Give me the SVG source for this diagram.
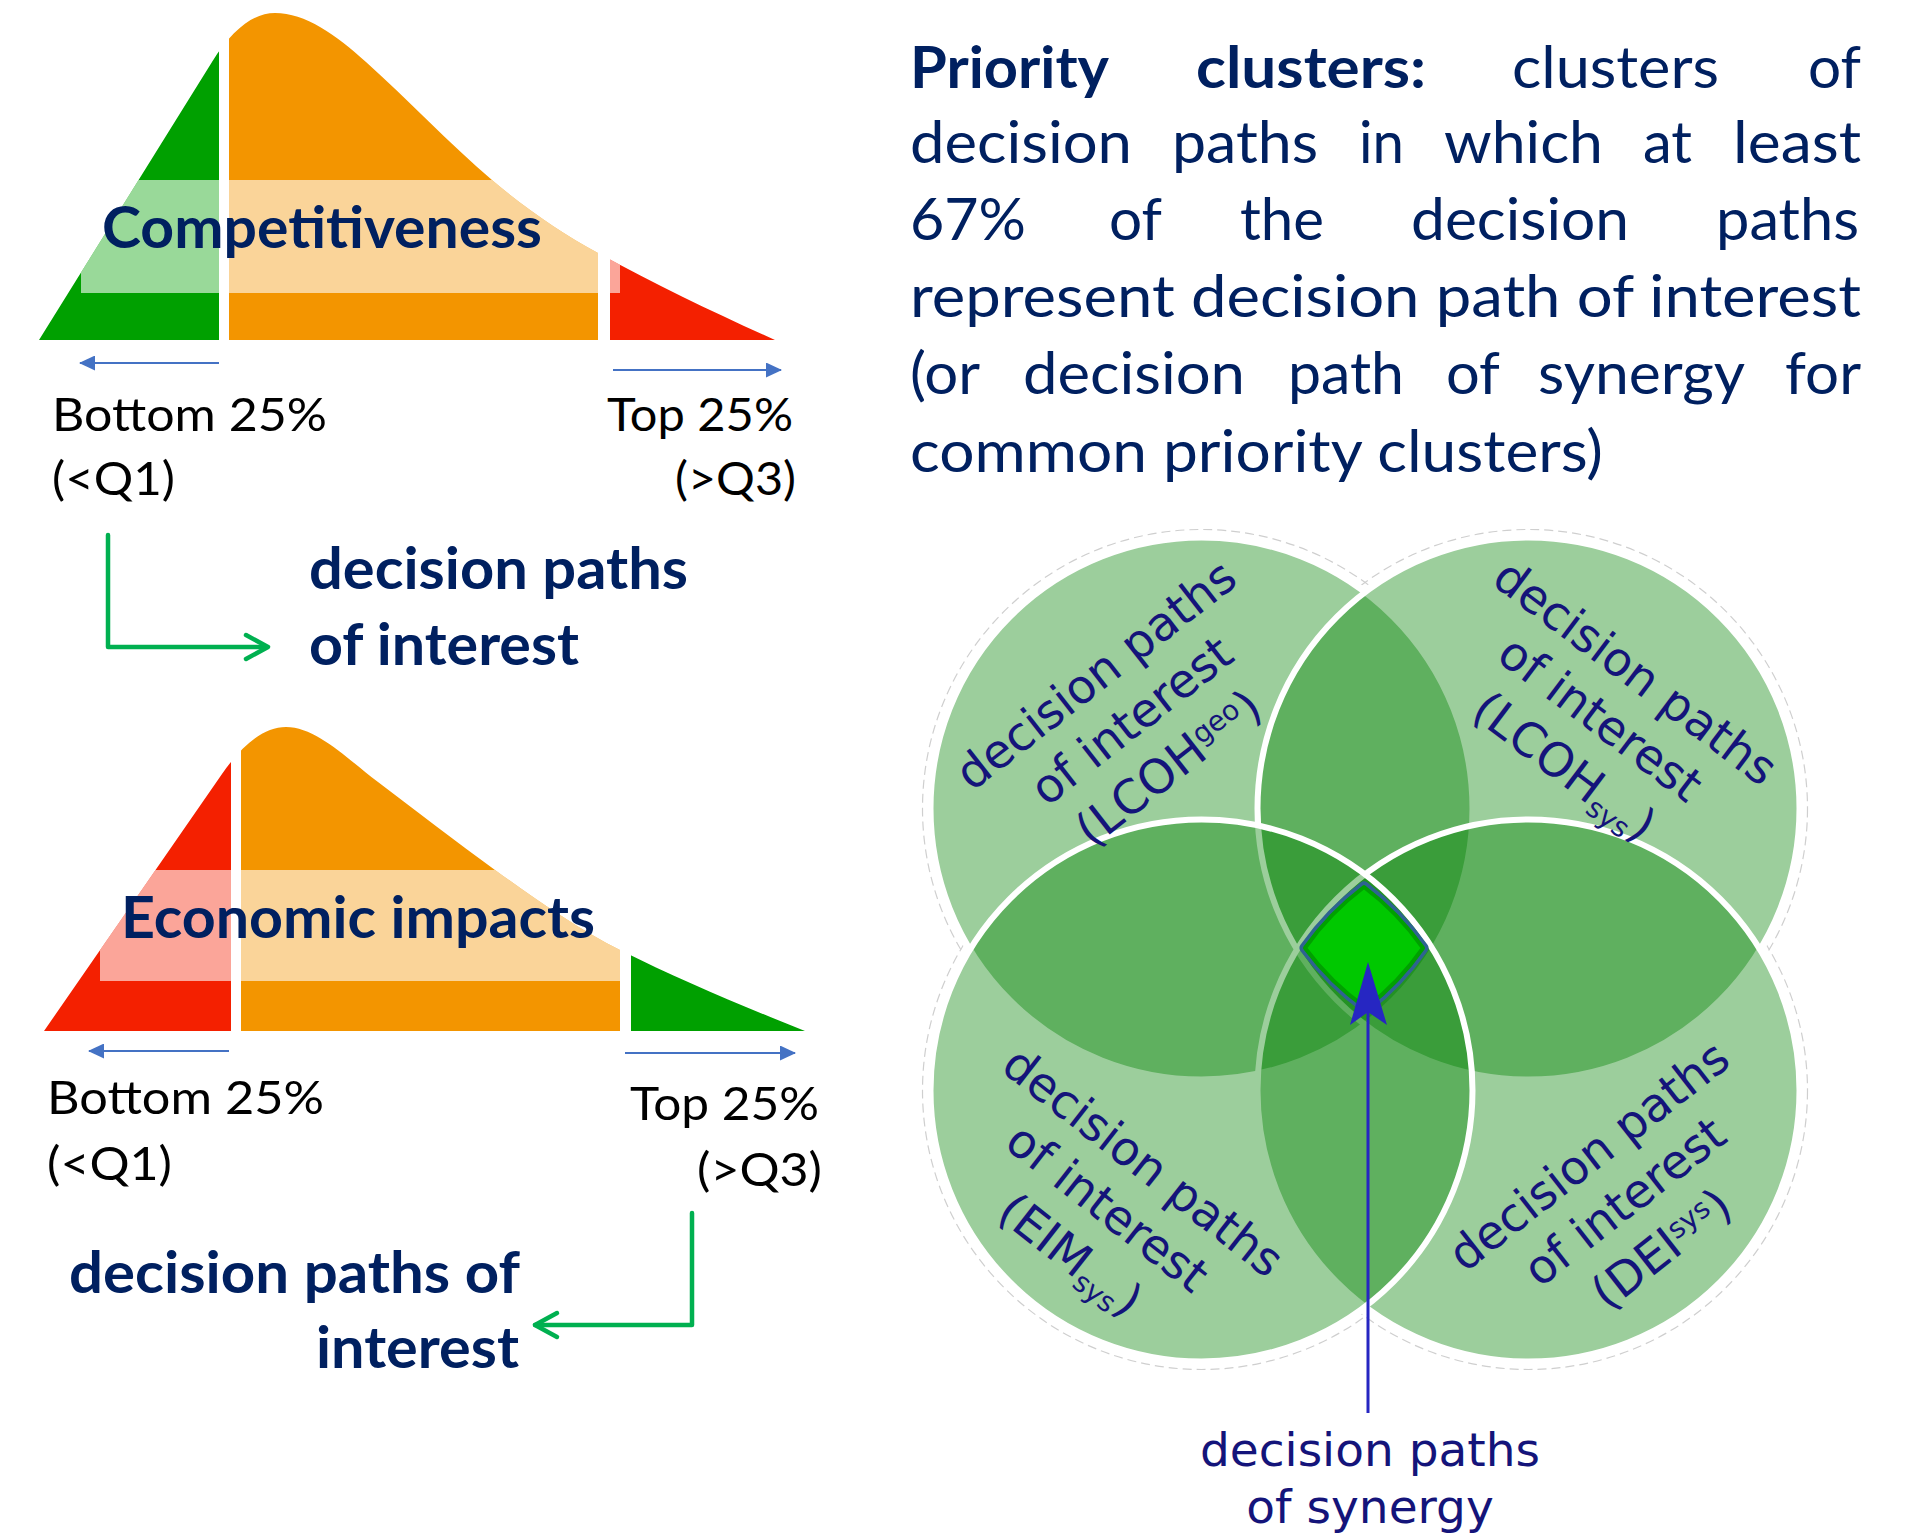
<svg xmlns="http://www.w3.org/2000/svg" width="1930" height="1539" viewBox="0 0 1930 1539">
<defs>
<style>
.nav{fill:#002060;font-family:Lato,"Open Sans",sans-serif}
.b{font-weight:700}
.lbl{fill:#000;font-family:Lato,"Open Sans",sans-serif;font-size:47px}
.par{font-size:58px}
.big{font-size:57px;font-weight:700}
.vt{fill:#14147A;font-family:"DejaVu Sans",Verdana,sans-serif;font-size:47px;text-anchor:middle}
.sub{font-size:28px}
.band{fill:#fff;fill-opacity:0.6}
.circ{fill:#008000;fill-opacity:0.39;stroke:#fff;stroke-width:6}
.ring{fill:none;stroke:#cfcfcf;stroke-width:1.2;stroke-dasharray:9 5}
.blue{stroke:#4472C4;stroke-width:2;fill:none}
.grn{stroke:#00B050;stroke-width:4.5;fill:none;stroke-linecap:round;stroke-linejoin:round}
</style>
<marker id="bh" viewBox="0 0 16 15" refX="15" refY="7.5" markerWidth="16" markerHeight="15" markerUnits="userSpaceOnUse" orient="auto"><path d="M0,0 L16,7.5 L0,15 Z" fill="#4472C4"/></marker>
<clipPath id="c1"><path d="M39,340 L212,62 C233,28.4 254,13 275,13 C305.3,13 335.7,34.7 366,62 C408,99.8 450,144.3 492,180 C527.3,210 562.7,233.6 598,253 C657,285.5 716,313.4 775,340 Z"/></clipPath>
<clipPath id="c2"><path d="M44,1031 L222,774 C243.3,743.3 264.7,727 286,727 C316.7,727 347.3,759 378,782 C417,811.3 456,842 495,870 C536.7,900 578.3,929.2 620,950 C681.7,980.8 743.3,1006.3 805,1031 Z"/></clipPath>
<mask id="outside" maskUnits="userSpaceOnUse" x="0" y="0" width="1930" height="1539">
<rect x="0" y="0" width="1930" height="1539" fill="#fff"/>
<circle cx="1201.5" cy="808.5" r="275" fill="#000"/>
<circle cx="1528.5" cy="808.5" r="275" fill="#000"/>
<circle cx="1201.5" cy="1090.5" r="275" fill="#000"/>
<circle cx="1528.5" cy="1090.5" r="275" fill="#000"/>
</mask>
</defs>

<g id="chart-competitiveness">
<g clip-path="url(#c1)">
<rect x="30" y="0" width="189" height="341" fill="#00A000"/>
<rect x="229" y="0" width="369" height="341" fill="#F39500"/>
<rect x="610" y="0" width="170" height="341" fill="#F42000"/>
</g>
<rect class="band" x="81" y="180" width="539" height="113" clip-path="url(#c1)"/>
<text class="nav big" x="102" y="248" textLength="440" lengthAdjust="spacingAndGlyphs">Competitiveness</text>
<line class="blue" x1="219" y1="363" x2="80" y2="363" marker-end="url(#bh)"/>
<line class="blue" x1="613" y1="370" x2="781" y2="370" marker-end="url(#bh)"/>
<text class="lbl" x="52" y="431" textLength="275" lengthAdjust="spacingAndGlyphs">Bottom 25%</text>
<text class="lbl" x="52" y="495" textLength="123" lengthAdjust="spacingAndGlyphs">(&lt;Q1)</text>
<text class="lbl" x="607" y="431" textLength="186" lengthAdjust="spacingAndGlyphs">Top 25%</text>
<text class="lbl" x="675" y="495" textLength="121" lengthAdjust="spacingAndGlyphs">(&gt;Q3)</text>
</g>

<g id="label-interest-1">
<text class="nav big" x="309" y="589" textLength="379" lengthAdjust="spacingAndGlyphs">decision paths</text>
<text class="nav big" x="309" y="665" textLength="270" lengthAdjust="spacingAndGlyphs">of interest</text>
</g>

<g id="chart-economic">
<g clip-path="url(#c2)">
<rect x="30" y="700" width="201" height="332" fill="#F42000"/>
<rect x="241" y="700" width="379" height="332" fill="#F39500"/>
<rect x="631" y="700" width="180" height="332" fill="#00A000"/>
</g>
<rect class="band" x="100" y="870" width="520" height="111" clip-path="url(#c2)"/>
<text class="nav big" x="121" y="938" textLength="474" lengthAdjust="spacingAndGlyphs">Economic impacts</text>
<line class="blue" x1="229" y1="1051" x2="89" y2="1051" marker-end="url(#bh)"/>
<line class="blue" x1="625" y1="1053" x2="795" y2="1053" marker-end="url(#bh)"/>
<text class="lbl" x="47" y="1114" textLength="277" lengthAdjust="spacingAndGlyphs">Bottom 25%</text>
<text class="lbl" x="47" y="1180" textLength="125" lengthAdjust="spacingAndGlyphs">(&lt;Q1)</text>
<text class="lbl" x="630" y="1120" textLength="189" lengthAdjust="spacingAndGlyphs">Top 25%</text>
<text class="lbl" x="697" y="1186" textLength="125" lengthAdjust="spacingAndGlyphs">(&gt;Q3)</text>
</g>

<g id="label-interest-2">
<text class="nav big" x="69" y="1293" textLength="451" lengthAdjust="spacingAndGlyphs">decision paths of</text>
<text class="nav big" x="316" y="1368" textLength="203" lengthAdjust="spacingAndGlyphs">interest</text>
</g>

<g id="definition" class="nav par">
<text y="88"><tspan class="b" x="910" textLength="199" lengthAdjust="spacingAndGlyphs">Priority</tspan><tspan class="b" x="1196" textLength="230" lengthAdjust="spacingAndGlyphs">clusters:</tspan><tspan x="1512" textLength="207" lengthAdjust="spacingAndGlyphs">clusters</tspan><tspan x="1808" textLength="53" lengthAdjust="spacingAndGlyphs">of</tspan></text>
<text y="163"><tspan x="910" textLength="222" lengthAdjust="spacingAndGlyphs">decision</tspan><tspan x="1172" textLength="146" lengthAdjust="spacingAndGlyphs">paths</tspan><tspan x="1359" textLength="45" lengthAdjust="spacingAndGlyphs">in</tspan><tspan x="1444" textLength="159" lengthAdjust="spacingAndGlyphs">which</tspan><tspan x="1643" textLength="49" lengthAdjust="spacingAndGlyphs">at</tspan><tspan x="1733" textLength="128" lengthAdjust="spacingAndGlyphs">least</tspan></text>
<text y="240"><tspan x="910" textLength="116" lengthAdjust="spacingAndGlyphs">67%</tspan><tspan x="1109" textLength="53" lengthAdjust="spacingAndGlyphs">of</tspan><tspan x="1240" textLength="84" lengthAdjust="spacingAndGlyphs">the</tspan><tspan x="1411" textLength="218" lengthAdjust="spacingAndGlyphs">decision</tspan><tspan x="1716" textLength="143" lengthAdjust="spacingAndGlyphs">paths</tspan></text>
<text x="910" y="317" textLength="951" lengthAdjust="spacingAndGlyphs">represent decision path of interest</text>
<text y="394"><tspan x="910" textLength="70" lengthAdjust="spacingAndGlyphs">(or</tspan><tspan x="1023" textLength="222" lengthAdjust="spacingAndGlyphs">decision</tspan><tspan x="1288" textLength="116" lengthAdjust="spacingAndGlyphs">path</tspan><tspan x="1446" textLength="54" lengthAdjust="spacingAndGlyphs">of</tspan><tspan x="1538" textLength="207" lengthAdjust="spacingAndGlyphs">synergy</tspan><tspan x="1785" textLength="76" lengthAdjust="spacingAndGlyphs">for</tspan></text>
<text x="910" y="472" textLength="693" lengthAdjust="spacingAndGlyphs">common priority clusters)</text>
</g>

<g id="venn">
<g id="rings" mask="url(#outside)">
<circle class="ring" cx="1201.5" cy="808.5" r="279"/>
<circle class="ring" cx="1528.5" cy="808.5" r="279"/>
<circle class="ring" cx="1201.5" cy="1090.5" r="279"/>
<circle class="ring" cx="1528.5" cy="1090.5" r="279"/>
</g>
<g id="circle-lcoh-geo"><circle class="circ" cx="1201.5" cy="808.5" r="271"/></g>
<g id="circle-lcoh-sys"><circle class="circ" cx="1528.5" cy="808.5" r="271"/></g>
<g id="circle-dei-sys"><circle class="circ" cx="1528.5" cy="1090.5" r="271"/></g>
<g id="circle-eim-sys"><circle class="circ" cx="1201.5" cy="1090.5" r="271"/></g>
<g id="synergy-core">
<path d="M1364,887 A273,273 0 0 1 1423,948 A273,273 0 0 1 1366,1008 A273,273 0 0 1 1305,948 A273,273 0 0 1 1364,887 Z" fill="none" stroke="#2E6391" stroke-width="11" stroke-linejoin="round"/>
<path d="M1364,887 A273,273 0 0 1 1423,948 A273,273 0 0 1 1366,1008 A273,273 0 0 1 1305,948 A273,273 0 0 1 1364,887 Z" fill="#00C800" stroke="#00A000" stroke-width="4" stroke-linejoin="round"/>
</g>
<g id="text-lcoh-geo" transform="translate(1131,720) rotate(-38)">
<text class="vt" y="-41">decision paths</text>
<text class="vt" y="17">of interest</text>
<text class="vt" y="77">(LCOH<tspan class="sub" dy="-14">geo</tspan><tspan dy="14">)</tspan></text>
</g>
<g id="text-lcoh-sys" transform="translate(1601,718) rotate(37)">
<text class="vt" y="-41">decision paths</text>
<text class="vt" y="17">of interest</text>
<text class="vt" y="77">(LCOH<tspan class="sub" dy="8">sys</tspan><tspan dy="-8">)</tspan></text>
</g>
<g id="text-eim-sys" transform="translate(1108,1207) rotate(38)">
<text class="vt" y="-41">decision paths</text>
<text class="vt" y="17">of interest</text>
<text class="vt" y="77">(EIM<tspan class="sub" dy="8">sys</tspan><tspan dy="-8">)</tspan></text>
</g>
<g id="text-dei-sys" transform="translate(1624,1201) rotate(-38)">
<text class="vt" y="-41">decision paths</text>
<text class="vt" y="17">of interest</text>
<text class="vt" y="77">(DEI<tspan class="sub" dy="-14">sys</tspan><tspan dy="14">)</tspan></text>
</g>
</g>

<g id="connectors">
<path class="grn" d="M108,535 L108,647 L266,647"/>
<path class="grn" d="M246,635 L268,647 L246,659"/>
<path class="grn" d="M692,1213 L692,1325 L535,1325"/>
<path class="grn" d="M557,1313 L535,1325 L557,1337"/>
<line x1="1368" y1="1413" x2="1368" y2="1010" stroke="#2626C2" stroke-width="3"/>
<path d="M1368,962 L1387,1025 L1368,1012 L1350,1025 Z" fill="#2626C2"/>
</g>

<g id="label-synergy">
<text class="vt" x="1370" y="1466">decision paths</text>
<text class="vt" x="1370" y="1523">of synergy</text>
</g>
</svg>
